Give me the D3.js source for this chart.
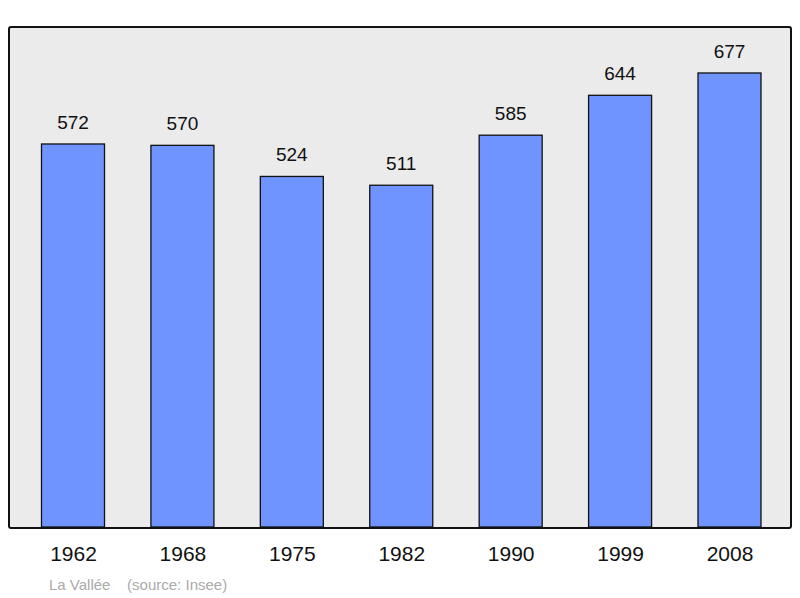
<!DOCTYPE html>
<html><head><meta charset="utf-8">
<script src="https://cdn.jsdelivr.net/npm/d3@7"></script>
<style>body{margin:0;background:#fff}svg{display:block}</style>
</head><body>
<svg id="c" width="800" height="598"></svg>
<script>
const years = ["1962","1968","1975","1982","1990","1999","2008"];
const population = [572,570,524,511,585,644,677];
const footer = "La Vallée    (source: Insee)";

const svg = d3.select("#c");
svg.append("rect").attr("x",9).attr("y",27).attr("width",782).attr("height",501)
  .attr("rx",2).attr("fill","#ebebeb").attr("stroke","#111").attr("stroke-width",2);

const x = d3.scalePoint().domain(years).range([73,729.5]);
const y = d3.scaleLinear().domain([0,745]).range([530.8,27]);
const bw = 63;
const base = 527;

svg.selectAll("rect.bar").data(population).join("rect").attr("class","bar")
  .attr("x",(d,i)=>x(years[i])-bw/2).attr("y",d=>y(d))
  .attr("width",bw).attr("height",d=>base-y(d))
  .attr("fill","#7094ff").attr("stroke","#111").attr("stroke-width",1.3);

svg.selectAll("text.val").data(population).join("text").attr("class","val")
  .attr("x",(d,i)=>x(years[i])).attr("y",d=>y(d)-15)
  .attr("text-anchor","middle").attr("font-family","Liberation Sans, Arial, sans-serif")
  .attr("font-size",19).attr("fill","#111").text(d=>d);

const ax = svg.append("g").attr("transform","translate(0,528)")
  .call(d3.axisBottom(x).tickSize(0).tickPadding(18));
ax.select(".domain").remove();
ax.selectAll("text").attr("font-family","Liberation Sans, Arial, sans-serif")
  .attr("font-size",21).attr("fill","#111");

svg.append("text").attr("x",49).attr("y",590).attr("font-family","Liberation Sans, Arial, sans-serif")
  .attr("font-size",15).attr("fill","#aaa").attr("xml:space","preserve").style("white-space","pre").text(footer);
</script>
</body></html>
